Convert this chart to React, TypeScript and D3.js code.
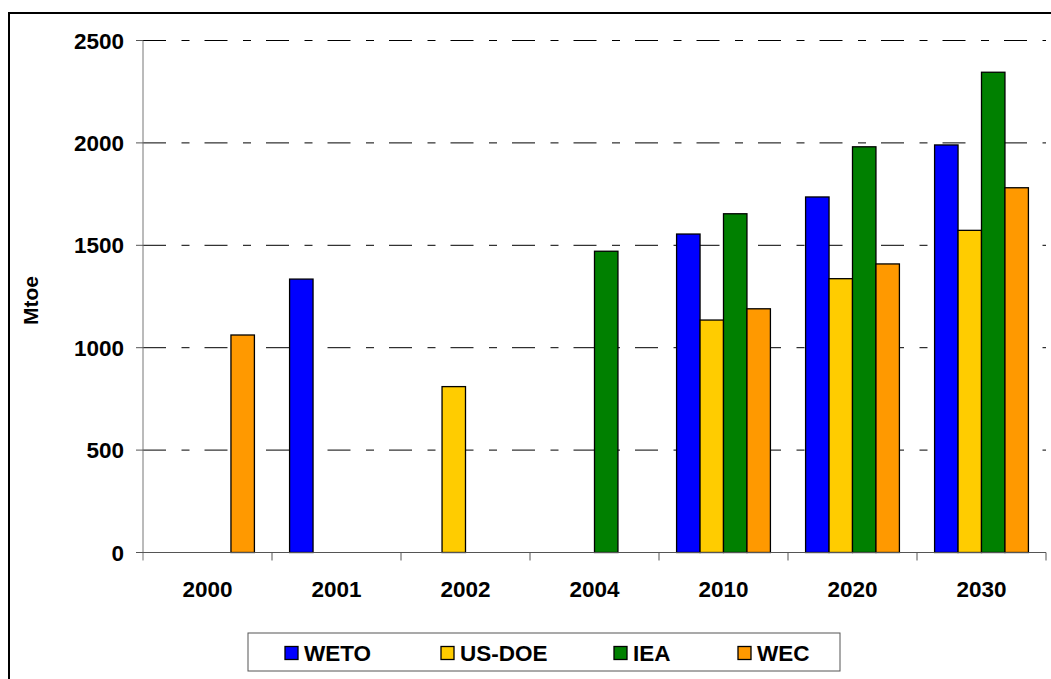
import React from "react";
import * as d3 from "d3";

const categories = ["2000", "2001", "2002", "2004", "2010", "2020", "2030"];
const seriesNames = ["WETO", "US-DOE", "IEA", "WEC"];
const seriesColors = ["#0000FF", "#FFCC00", "#008000", "#FF9900"];
const weto = [null, 1335, null, null, 1555, 1736, 1990];
const usdoe = [null, null, 810, null, 1135, 1337, 1573];
const iea = [null, null, null, 1471, 1654, 1981, 2345];
const wec = [1062, null, null, null, 1190, 1409, 1781];
const yTicks = [0, 500, 1000, 1500, 2000, 2500];

const W = 1051;
const H = 679;
const FONT = "'Liberation Sans', Arial, sans-serif";

export default function App() {
  const seriesValues = [weto, usdoe, iea, wec];
  const left = 143;
  const right = 1046;
  const top = 40.5;
  const bottom = 552.5;

  const x0 = d3.scaleBand<string>().domain(categories).range([left, right]).paddingInner(0).paddingOuter(0);
  const x1 = d3.scaleBand<string>().domain(seriesNames).range([0, x0.bandwidth()]).paddingInner(0).paddingOuter(0.75);
  const y = d3.scaleLinear().domain([0, 2500]).range([bottom, top]);

  const legendX = 248;
  const legendY = 633;
  const legendItems = [
    { sx: 285, tx: 304 },
    { sx: 441, tx: 460 },
    { sx: 614, tx: 633 },
    { sx: 738, tx: 757 },
  ];

  return (
    <svg width={W} height={H} style={{ position: "absolute", left: 0, top: 0, background: "#fff" }}>
      <rect x={0} y={0} width={W} height={H} fill="#fff" />
      {/* outer frame */}
      <rect x={9} y={13} width={1070} height={700} fill="none" stroke="#000" strokeWidth={2} />

      {/* gridlines */}
      {yTicks.filter((t) => t > 0).map((t) => (
        <line key={"g" + t} x1={left} x2={right} y1={y(t)} y2={y(t)} stroke="#000" strokeWidth={1} strokeDasharray="23,15.5,8,15" />
      ))}

      {/* bars */}
      {seriesValues.map((vals, si) =>
        vals.map((v, ci) =>
          v == null ? null : (
            <rect
              key={si + "-" + ci}
              x={(x0(categories[ci]) as number) + (x1(seriesNames[si]) as number)}
              y={y(v)}
              width={x1.bandwidth()}
              height={y(0) - y(v)}
              fill={seriesColors[si]}
              stroke="#000"
              strokeWidth={1.3}
            />
          )
        )
      )}

      {/* axes */}
      <line x1={left} x2={left} y1={top} y2={bottom + 8} stroke="#777" strokeWidth={1} />
      <line x1={left} x2={right} y1={bottom} y2={bottom} stroke="#555" strokeWidth={1} />
      {yTicks.map((t) => (
        <g key={"t" + t}>
          <line x1={left - 7} x2={left} y1={y(t)} y2={y(t)} stroke="#555" strokeWidth={1} />
          <text x={124} y={y(t)} dy="0.36em" textAnchor="end" fontFamily={FONT} fontWeight="bold" fontSize={22.5}>
            {t}
          </text>
        </g>
      ))}
      {categories.map((c, i) => (
        <g key={"c" + c}>
          <line x1={(x0(c) as number) + x0.bandwidth()} x2={(x0(c) as number) + x0.bandwidth()} y1={bottom} y2={bottom + 8} stroke="#555" strokeWidth={1} />
          <text x={(x0(c) as number) + x0.bandwidth() / 2} y={597} textAnchor="middle" fontFamily={FONT} fontWeight="bold" fontSize={22.5}>
            {c}
          </text>
        </g>
      ))}

      {/* y label */}
      <text transform={`translate(38, ${(top + bottom) / 2 + 4}) rotate(-90)`} textAnchor="middle" fontFamily={FONT} fontWeight="bold" fontSize={21}>
        Mtoe
      </text>

      {/* legend */}
      <rect x={legendX} y={legendY} width={592} height={38} fill="#fff" stroke="#555" strokeWidth={1} />
      {seriesNames.map((n, i) => (
        <g key={"l" + n}>
          <rect x={legendItems[i].sx} y={legendY + 13.5} width={13} height={13} fill={seriesColors[i]} stroke="#000" strokeWidth={1.3} />
          <text x={legendItems[i].tx} y={legendY + 28} fontFamily={FONT} fontWeight="bold" fontSize={22.5}>
            {n}
          </text>
        </g>
      ))}
    </svg>
  );
}
